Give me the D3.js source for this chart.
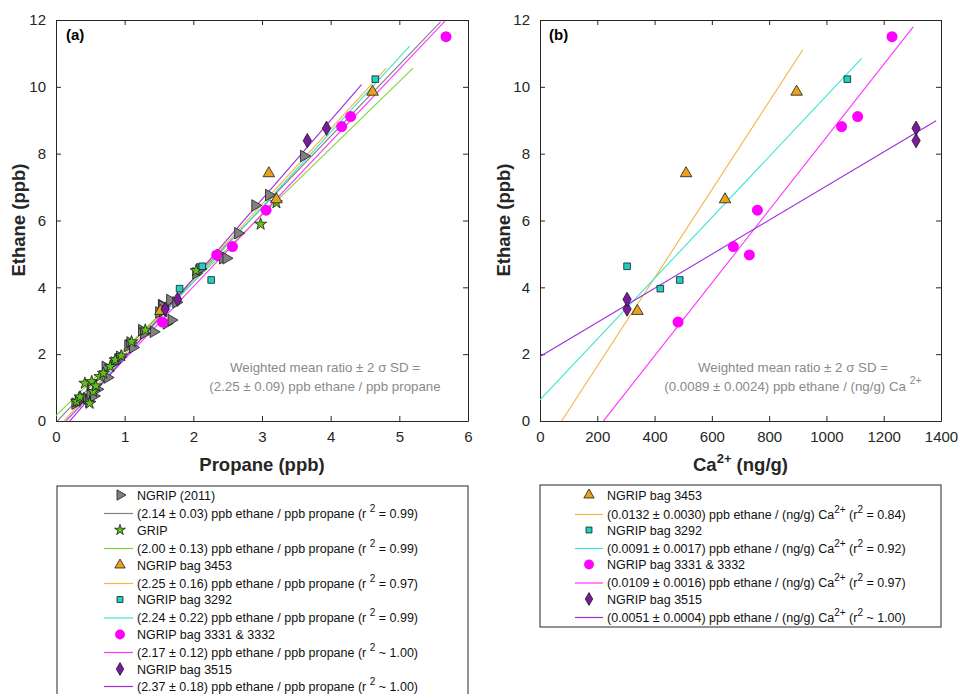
<!DOCTYPE html>
<html>
<head>
<meta charset="utf-8">
<script src="https://cdn.jsdelivr.net/npm/d3@7"></script>
<style>
  html, body { margin: 0; padding: 0; background: #fff; }
  svg { display: block; font-family: "Liberation Sans", Arial, sans-serif; }
  .axis path, .axis line { stroke: #262626; }
  .axis text { fill: #262626; font-size: 15px; font-family: "Liberation Sans", Arial, sans-serif; }
</style>
</head>
<body>
<svg id="chart" width="962" height="694"></svg>
<script>
// ---- Propane vs ethane (panel a) ----
const ngrip2011Propane = [0.28,0.33,0.38,0.45,0.48,0.50,0.55,0.60,0.72,0.75,0.85,0.93,1.05,1.08,1.12,1.25,1.28,1.42,1.50,1.54,1.55,1.61,1.66,1.68,1.75,2.04,2.10,2.39,2.43,2.48,2.65,2.90,3.10,3.61];
const ngrip2011Ethane  = [0.52,0.60,0.70,0.68,0.58,0.82,0.75,0.95,1.62,1.30,1.75,1.92,2.25,2.35,2.20,2.72,2.62,2.67,3.25,3.47,3.44,2.92,3.62,3.02,3.55,4.42,4.55,4.97,4.87,4.87,5.62,6.45,6.76,7.93];
const gripPropane = [0.30,0.35,0.42,0.49,0.52,0.54,0.58,0.64,0.69,0.79,0.86,0.95,1.10,1.30,1.56,2.04,2.98,3.21];
const gripEthane  = [0.58,0.72,1.13,0.53,1.18,0.88,1.05,1.33,1.43,1.63,1.83,1.95,2.37,2.72,3.27,4.50,5.89,6.53];

// ---- Ice-core bag samples: ethane, propane and Ca2+ ----
const bag3453Ethane  = [3.29, 7.41, 6.63, 9.85];
const bag3453Propane = [1.52, 3.10, 3.21, 4.61];
const bag3453Ca      = [340, 510, 646, 896];

const bag3292Ethane  = [4.63, 3.96, 4.22, 10.23];
const bag3292Propane = [2.13, 1.80, 2.26, 4.65];
const bag3292Ca      = [304, 420, 488, 1073];

const bag3331Ethane  = [2.96, 4.97, 5.22, 6.31, 8.81, 9.11, 11.50];
const bag3331Propane = [1.55, 2.34, 2.57, 3.06, 4.16, 4.29, 5.68];
const bag3331Ca      = [482, 731, 675, 759, 1053, 1109, 1229];

const bag3515Ethane  = [3.35, 3.64, 8.39, 8.76];
const bag3515Propane = [1.59, 1.77, 3.66, 3.94];
const bag3515Ca      = [304, 304, 1313, 1313];

// ---- Regression lines: slope from the fit, intercept and x extent ----
const fitASlope     = [2.14, 2.00, 2.25, 2.24, 2.17, 2.37];
const fitAIntercept = [-0.04, 0.16, -0.26, -0.32, -0.32, -0.48];
const fitAStart     = [0.02, 0.0, 0.116, 0.143, 0.15, 0.2];
const fitAEnd       = [5.6, 5.2, 4.81, 5.15, 5.67, 4.45];

const fitBSlope     = [0.0132, 0.0091, 0.0109, 0.0051];
const fitBIntercept = [-1.0, 0.63, -2.41, 1.93];
const fitBStart     = [75.6, 0, 221, 0];
const fitBEnd       = [917, 1123, 1303, 1383];

// ---- Axis ticks ----
const yTicks  = [0, 2, 4, 6, 8, 10, 12];
const xTicksA = [0, 1, 2, 3, 4, 5, 6];
const xTicksB = [0, 200, 400, 600, 800, 1000, 1200, 1400];

// ---- Legend text ----
const seriesNamesA = ["NGRIP (2011)", "GRIP", "NGRIP bag 3453", "NGRIP bag 3292", "NGRIP bag 3331 & 3332", "NGRIP bag 3515"];
const fitLabelsA = [
  ["(2.14 ± 0.03) ppb ethane / ppb propane (r ", "2", " = 0.99)"],
  ["(2.00 ± 0.13) ppb ethane / ppb propane (r ", "2", " = 0.99)"],
  ["(2.25 ± 0.16) ppb ethane / ppb propane (r ", "2", " = 0.97)"],
  ["(2.24 ± 0.22) ppb ethane / ppb propane (r ", "2", " =  0.99)"],
  ["(2.17 ± 0.12) ppb ethane / ppb propane (r ", "2", " ~ 1.00)"],
  ["(2.37 ± 0.18) ppb ethane / ppb propane (r ", "2", " ~ 1.00)"]
];
const seriesNamesB = ["NGRIP bag 3453", "NGRIP bag 3292", "NGRIP bag 3331 & 3332", "NGRIP bag 3515"];
const fitLabelsB = [
  ["(0.0132 ± 0.0030) ppb ethane / (ng/g) Ca", "2+", "  (r", "2", " = 0.84)"],
  ["(0.0091 ± 0.0017) ppb ethane / (ng/g) Ca", "2+", "  (r", "2", " = 0.92)"],
  ["(0.0109 ± 0.0016) ppb ethane / (ng/g) Ca", "2+", "  (r", "2", " = 0.97)"],
  ["(0.0051 ± 0.0004) ppb ethane / (ng/g) Ca", "2+", "  (r", "2", " ~ 1.00)"]
];

// ---- Styling per series ----
const styles = {
  ngrip2011: { symbol: d3.symbolTriangle, size: 58, rotate: 90, fill: "#808080", stroke: "#1a1a1a", line: "#808080" },
  grip:      { symbol: d3.symbolStar,     size: 45, rotate: 0,  fill: "#5fc21a", stroke: "#1a1a1a", line: "#7ed43a" },
  b3453:     { symbol: d3.symbolTriangle, size: 58, rotate: 0,  fill: "#e8a21c", stroke: "#1a1a1a", line: "#f2b446" },
  b3292:     { symbol: d3.symbolSquare,   size: 44, rotate: 0,  fill: "#1fd1c0", stroke: "#1a1a1a", line: "#3de3d2" },
  b3331:     { symbol: d3.symbolCircle,   size: 95, rotate: 0,  fill: "#ff00ff", stroke: "none",    line: "#ff33ff" },
  b3515:     { symbol: d3.symbolDiamond,  size: 60, rotate: 0,  fill: "#7a1a9e", stroke: "#1a1a1a", line: "#9b30d9" }
};
const styleOrderA = ["ngrip2011", "grip", "b3453", "b3292", "b3331", "b3515"];
const styleOrderB = ["b3453", "b3292", "b3331", "b3515"];

const svg = d3.select("#chart");
const FONT = '"Liberation Sans", Arial, sans-serif';

const yTop = 20, yBottom = 421;
const xA = d3.scaleLinear().domain([0, 6]).range([56, 468]);
const xB = d3.scaleLinear().domain([0, 1400]).range([540, 941]);
const y  = d3.scaleLinear().domain([0, 12]).range([yBottom, yTop]);

function symbolPath(st) {
  return d3.symbol().type(st.symbol).size(st.size)();
}

function drawFrame(x, ticksX) {
  const g = svg.append("g");
  const [x0, x1] = x.range();
  // bottom + top
  g.append("g").attr("class", "axis").attr("transform", `translate(0,${yBottom})`)
    .call(d3.axisBottom(x).tickValues(ticksX).tickSizeInner(-5).tickSizeOuter(0).tickPadding(10).tickFormat(d3.format("d")));
  g.append("g").attr("class", "axis").attr("transform", `translate(0,${yTop})`)
    .call(d3.axisTop(x).tickValues(ticksX).tickSizeInner(-5).tickSizeOuter(0).tickFormat(""));
  // left + right
  g.append("g").attr("class", "axis").attr("transform", `translate(${x0},0)`)
    .call(d3.axisLeft(y).tickValues(yTicks).tickSizeInner(-5).tickSizeOuter(0).tickPadding(10));
  g.append("g").attr("class", "axis").attr("transform", `translate(${x1},0)`)
    .call(d3.axisRight(y).tickValues(yTicks).tickSizeInner(-5).tickSizeOuter(0).tickFormat(""));
  g.selectAll(".axis path").attr("stroke-width", 1);
  return g;
}

function drawFits(x, slopes, intercepts, starts, ends, order) {
  const g = svg.append("g");
  slopes.forEach((m, i) => {
    const xs = [starts[i], ends[i]];
    g.append("line")
      .attr("x1", x(xs[0])).attr("y1", y(m * xs[0] + intercepts[i]))
      .attr("x2", x(xs[1])).attr("y2", y(m * xs[1] + intercepts[i]))
      .attr("stroke", styles[order[i]].line).attr("stroke-width", 1.1);
  });
}

function drawPoints(x, xs, ys, key) {
  const st = styles[key];
  svg.append("g").selectAll("path").data(xs.map((v, i) => [v, ys[i]])).join("path")
    .attr("d", symbolPath(st))
    .attr("transform", d => `translate(${x(d[0])},${y(d[1])}) rotate(${st.rotate})`)
    .attr("fill", st.fill).attr("stroke", st.stroke).attr("stroke-width", 0.8);
}

// ===== Panel (a) =====
drawFrame(xA, xTicksA);
drawFits(xA, fitASlope, fitAIntercept, fitAStart, fitAEnd, styleOrderA);
drawPoints(xA, ngrip2011Propane, ngrip2011Ethane, "ngrip2011");
drawPoints(xA, gripPropane, gripEthane, "grip");
drawPoints(xA, bag3453Propane, bag3453Ethane, "b3453");
drawPoints(xA, bag3292Propane, bag3292Ethane, "b3292");
drawPoints(xA, bag3331Propane, bag3331Ethane, "b3331");
drawPoints(xA, bag3515Propane, bag3515Ethane, "b3515");

// ===== Panel (b) =====
drawFrame(xB, xTicksB);
drawFits(xB, fitBSlope, fitBIntercept, fitBStart, fitBEnd, styleOrderB);
drawPoints(xB, bag3453Ca, bag3453Ethane, "b3453");
drawPoints(xB, bag3292Ca, bag3292Ethane, "b3292");
drawPoints(xB, bag3331Ca, bag3331Ethane, "b3331");
drawPoints(xB, bag3515Ca, bag3515Ethane, "b3515");

// ----- Panel letters -----
svg.append("text").attr("x", 66).attr("y", 40).attr("font-size", 15).attr("font-weight", "bold")
  .attr("font-family", FONT).attr("fill", "#000").text("(a)");
svg.append("text").attr("x", 549).attr("y", 40).attr("font-size", 15).attr("font-weight", "bold")
  .attr("font-family", FONT).attr("fill", "#000").text("(b)");

// ----- Axis titles -----
function yTitle(cx) {
  svg.append("text").attr("transform", `translate(${cx},220) rotate(-90)`)
    .attr("text-anchor", "middle").attr("font-size", 18.5).attr("font-weight", "bold")
    .attr("font-family", FONT).attr("fill", "#262626").text("Ethane (ppb)");
}
yTitle(25);
yTitle(510);

svg.append("text").attr("x", xA(3)).attr("y", 471).attr("text-anchor", "middle")
  .attr("font-size", 18.5).attr("font-weight", "bold").attr("font-family", FONT)
  .attr("fill", "#262626").text("Propane (ppb)");

const caTitle = svg.append("text").attr("x", xB(700)).attr("y", 471).attr("text-anchor", "middle")
  .attr("font-size", 18.5).attr("font-weight", "bold").attr("font-family", FONT).attr("fill", "#262626");
caTitle.append("tspan").text("Ca");
caTitle.append("tspan").attr("dy", -8).attr("font-size", 13).text("2+");
caTitle.append("tspan").attr("dy", 8).text(" (ng/g)");

// ----- Weighted mean annotations -----
function note(cx, lines) {
  const g = svg.append("g").attr("font-family", FONT).attr("font-size", 13.3).attr("fill", "#8a8a8a");
  g.append("text").attr("x", cx).attr("y", 372).attr("text-anchor", "middle").text(lines[0]);
  const t = g.append("text").attr("x", cx).attr("y", 391).attr("text-anchor", "middle");
  t.append("tspan").text(lines[1]);
  if (lines[2]) {
    t.append("tspan").attr("dy", -7).attr("font-size", 10.5).text(lines[2]);
  }
}
note(325, ["Weighted mean ratio ± 2 σ SD =", "(2.25 ± 0.09) ppb ethane / ppb propane"]);
note(793, ["Weighted mean ratio ± 2 σ SD =", "(0.0089 ± 0.0024) ppb ethane / (ng/g) Ca ", "2+"]);

// ----- Legends -----
function legend(box, names, labels, order, rows) {
  const g = svg.append("g").attr("font-family", FONT).attr("font-size", 12.5).attr("fill", "#111");
  g.append("rect").attr("x", box.x).attr("y", box.y).attr("width", box.w).attr("height", box.h)
    .attr("fill", "#fff").attr("stroke", "#262626").attr("stroke-width", 1);
  names.forEach((name, i) => {
    const st = styles[order[i]];
    const ym = rows.marker[i], yl = rows.line[i];
    g.append("path").attr("d", d3.symbol().type(st.symbol).size(st.size * 0.8)())
      .attr("transform", `translate(${box.mx},${ym}) rotate(${st.rotate})`)
      .attr("fill", st.fill).attr("stroke", st.stroke).attr("stroke-width", 0.8);
    g.append("text").attr("x", box.tx).attr("y", ym + 4.5).text(name);
    g.append("line").attr("x1", box.lx0).attr("x2", box.lx1).attr("y1", yl).attr("y2", yl)
      .attr("stroke", st.line).attr("stroke-width", 1.2);
    const t = g.append("text").attr("x", box.tx).attr("y", yl + 4);
    labels[i].forEach((part, k) => {
      const sup = k % 2 === 1;
      const ts = t.append("tspan").text(part);
      if (sup) ts.attr("dy", -6).attr("font-size", 10);
      else if (k > 0) ts.attr("dy", 6);
    });
  });
}

legend({ x: 57, y: 486, w: 411, h: 230, mx: 120, tx: 137, lx0: 104, lx1: 133 },
  seriesNamesA, fitLabelsA, styleOrderA,
  { marker: [495, 530, 565, 599.5, 634.5, 669], line: [513.5, 548.5, 583.5, 618, 652.5, 686.5] });

legend({ x: 540, y: 485, w: 401, h: 142, mx: 589, tx: 607, lx0: 575, lx1: 603 },
  seriesNamesB, fitLabelsB, styleOrderB,
  { marker: [495, 530, 564.5, 599], line: [514.5, 548.5, 583, 617.5] });
</script>
</body>
</html>
